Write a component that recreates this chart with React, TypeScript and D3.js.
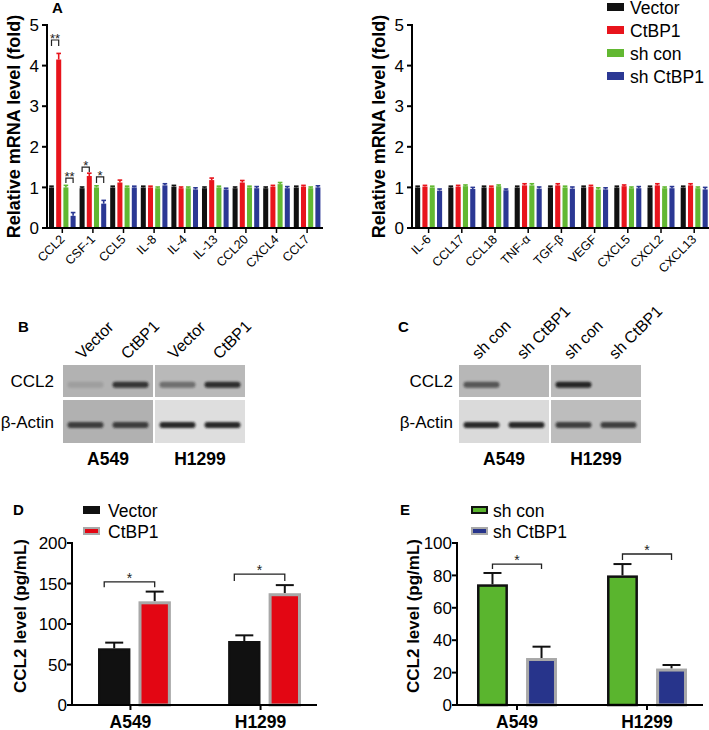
import React from "react";
import * as d3 from "d3";

// ---------- Panel A data ----------
const seriesA = ["Vector", "CtBP1", "sh con", "sh CtBP1"];
const colorsA = ["#111111", "#e8141c", "#62b832", "#2b3894"];
const genesLeft = ["CCL2", "CSF-1", "CCL5", "IL-8", "IL-4", "IL-13", "CCL20", "CXCL4", "CCL7"];
const valuesLeft = [
  [1.0, 4.15, 1.0, 0.3],
  [0.98, 1.28, 1.0, 0.6],
  [1.0, 1.12, 1.0, 1.0],
  [1.0, 1.0, 0.98, 1.05],
  [1.02, 0.98, 0.98, 0.95],
  [0.98, 1.18, 1.0, 0.95],
  [0.98, 1.12, 1.0, 0.98],
  [0.98, 1.02, 1.08, 0.98],
  [1.0, 1.02, 0.98, 1.0],
];
const errorsLeft = [
  [0.03, 0.15, 0.05, 0.08],
  [0.03, 0.07, 0.04, 0.08],
  [0.03, 0.06, 0.03, 0.03],
  [0.03, 0.03, 0.03, 0.04],
  [0.03, 0.03, 0.03, 0.04],
  [0.03, 0.05, 0.03, 0.03],
  [0.03, 0.05, 0.03, 0.04],
  [0.03, 0.03, 0.04, 0.04],
  [0.03, 0.03, 0.03, 0.04],
];
const genesRight = ["IL-6", "CCL17", "CCL18", "TNF-α", "TGF-β", "VEGF", "CXCL5", "CXCL2", "CXCL13"];
const valuesRight = [
  [1.0, 1.02, 1.0, 0.92],
  [1.0, 1.02, 1.03, 0.96],
  [1.0, 1.0, 1.03, 0.93],
  [1.0, 1.05, 1.05, 0.97],
  [1.0, 1.05, 1.0, 0.97],
  [1.0, 1.02, 0.95, 0.95],
  [1.0, 1.03, 0.98, 0.98],
  [1.0, 1.05, 0.98, 0.98],
  [1.0, 1.05, 0.98, 0.95],
];
const errorsRight = [
  [0.03, 0.03, 0.03, 0.04],
  [0.03, 0.03, 0.03, 0.04],
  [0.03, 0.03, 0.03, 0.03],
  [0.03, 0.04, 0.04, 0.04],
  [0.03, 0.04, 0.03, 0.04],
  [0.03, 0.03, 0.04, 0.04],
  [0.03, 0.03, 0.03, 0.04],
  [0.03, 0.04, 0.03, 0.04],
  [0.03, 0.04, 0.03, 0.05],
];
const ticksA = [0, 1, 2, 3, 4, 5];
const sigsLeft = [
  { gene: "CCL2", a: "Vector", b: "CtBP1", top: 4.63, leg: 4.48, label: "**" },
  { gene: "CCL2", a: "sh con", b: "sh CtBP1", top: 1.23, leg: 1.11, label: "**" },
  { gene: "CSF-1", a: "Vector", b: "CtBP1", top: 1.5, leg: 1.38, label: "*" },
  { gene: "CSF-1", a: "sh con", b: "sh CtBP1", top: 1.26, leg: 1.11, label: "*" },
];

// ---------- Blot data (band intensities, 0..1) ----------
const blotCells = ["A549", "H1299"];
const blotRows = ["CCL2", "β-Actin"];
const lanesB = ["Vector", "CtBP1", "Vector", "CtBP1"];
const lanesC = ["sh con", "sh CtBP1", "sh con", "sh CtBP1"];
const bandsB = [
  [0.12, 0.8, 0.45, 0.85],
  [0.75, 0.75, 0.9, 0.9],
];
const bandsC = [
  [0.6, 0.0, 0.9, 0.0],
  [0.9, 0.9, 0.75, 0.75],
];
const bgB = [
  ["#b2b2b2", "#b9b9b9"],
  ["#b1b1b1", "#dedede"],
];
const bgC = [
  ["#b7b7b7", "#b9b9b9"],
  ["#dadada", "#bdbdbd"],
];

// ---------- Panels D / E data ----------
const cellsDE = ["A549", "H1299"];
const seriesD = ["Vector", "CtBP1"];
const valuesD = [
  [70, 79],
  [128, 138],
];
const errTopD = [
  [77, 86],
  [140, 148],
];
const ticksD = [0, 50, 100, 150, 200];
const sigD = [
  { cell: "A549", top: 152, leg: 145.5 },
  { cell: "H1299", top: 161.5, leg: 153 },
];
const seriesE = ["sh con", "sh CtBP1"];
const valuesE = [
  [74.5, 80],
  [29, 22.5],
];
const errTopE = [
  [81.5, 87],
  [36, 24.7],
];
const ticksE = [0, 20, 40, 60, 80, 100];
const sigE = [
  { cell: "A549", top: 87, leg: 84 },
  { cell: "H1299", top: 93.2, leg: 89.5 },
];

const FONT = "'Liberation Sans', Arial, Helvetica, sans-serif";

const yA = d3.scaleLinear().domain([0, 5]).range([228, 25]);

function PanelA({ genes, values, errors, x0, step, pOuter, axisEnd, titleX, sigs }: any) {
  const x = d3.scaleBand().domain(genes).range([x0, x0 + step * genes.length]);
  const sub = d3.scaleBand().domain(seriesA).range([0, step]).paddingInner(0.3).paddingOuter(pOuter);
  const bw = sub.bandwidth();
  const cx = (g: string, s: string) => (x(g) as number) + (sub(s) as number) + bw / 2;
  return (
    <g>
      {genes.map((g: string, gi: number) =>
        seriesA.map((s, si) => {
          const v = values[gi][si];
          const e = errors[gi][si];
          const c = cx(g, s);
          return (
            <g key={g + s}>
              <rect x={c - bw / 2} y={yA(v)} width={bw} height={yA(0) - yA(v)} fill={colorsA[si]} />
              <line x1={c} x2={c} y1={yA(v)} y2={yA(v + e)} stroke={colorsA[si]} strokeWidth={1.6} />
              <line x1={c - 2.3} x2={c + 2.3} y1={yA(v + e)} y2={yA(v + e)} stroke={colorsA[si]} strokeWidth={1.6} />
            </g>
          );
        })
      )}
      <line x1={x0} x2={x0} y1={yA(5) - 1} y2={yA(0) + 1} stroke="#000" strokeWidth={2} />
      <line x1={x0 - 1} x2={axisEnd} y1={yA(0)} y2={yA(0)} stroke="#000" strokeWidth={2} />
      {ticksA.map((t) => (
        <g key={t}>
          <line x1={x0 - 5} x2={x0} y1={yA(t)} y2={yA(t)} stroke="#000" strokeWidth={2} />
          <text x={x0 - 8} y={yA(t)} dy="0.36em" textAnchor="end" fontSize={17}>
            {t}
          </text>
        </g>
      ))}
      {genes.map((g: string) => {
        const gx = (x(g) as number) + step / 2;
        return (
          <g key={g}>
            <line x1={gx} x2={gx} y1={yA(0)} y2={yA(0) + 5} stroke="#000" strokeWidth={1.5} />
            <text transform={`translate(${gx + 3},${yA(0) + 12}) rotate(-45)`} textAnchor="end" fontSize={12.5}>
              {g}
            </text>
          </g>
        );
      })}
      <text
        transform={`translate(${titleX},${(yA(0) + yA(5)) / 2}) rotate(-90)`}
        textAnchor="middle"
        dy="0.35em"
        fontSize={18}
        fontWeight="bold"
      >
        Relative mRNA level (fold)
      </text>
      {sigs.map((s: any, i: number) => {
        const xa = cx(s.gene, s.a);
        const xb = cx(s.gene, s.b);
        return (
          <g key={i}>
            <path
              d={`M${xa},${yA(s.leg)}V${yA(s.top)}H${xb}V${yA(s.leg)}`}
              fill="none"
              stroke="#222"
              strokeWidth={1.2}
            />
            <text x={(xa + xb) / 2} y={yA(s.top) + 3} textAnchor="middle" fontSize={13} fill="#222">
              {s.label}
            </text>
          </g>
        );
      })}
    </g>
  );
}

function Blot({ x0s, width, rowYs, rowHs, bands, bgs, lanes, labelEnd, laneLabelY, cellY }: any) {
  return (
    <g>
      {blotCells.map((cell, ci) => {
        const lx = d3.scaleBand().domain(["0", "1"]).range([x0s[ci], x0s[ci] + width]).paddingInner(0.2).paddingOuter(0.1);
        return (
          <g key={cell}>
            {blotRows.map((row, ri) => (
              <g key={row}>
                <rect x={x0s[ci]} y={rowYs[ri]} width={width} height={rowHs[ri]} fill={bgs[ri][ci]} />
                {["0", "1"].map((l, li) => {
                  const inten = bands[ri][ci * 2 + li];
                  if (inten <= 0) return null;
                  const bx = lx(l) as number;
                  const cyb = rowYs[ri] + rowHs[ri] * (ri === 0 ? 0.62 : 0.58);
                  return (
                    <rect
                      key={l}
                      x={bx}
                      y={cyb - 3}
                      width={lx.bandwidth()}
                      height={6}
                      rx={3}
                      fill="#141414"
                      opacity={inten}
                      filter="url(#blur)"
                    />
                  );
                })}
              </g>
            ))}
            <text x={x0s[ci] + width / 2} y={cellY} textAnchor="middle" fontSize={17.5} fontWeight="bold">
              {cell}
            </text>
            {["0", "1"].map((l, li) => {
              const c = (lx(l) as number) + lx.bandwidth() / 2;
              return (
                <text key={l} transform={`translate(${c - 3},${laneLabelY}) rotate(-45)`} fontSize={16}>
                  {lanes[ci * 2 + li]}
                </text>
              );
            })}
          </g>
        );
      })}
      {blotRows.map((row, ri) => (
        <text key={row} x={labelEnd} y={rowYs[ri] + rowHs[ri] / 2} dy="0.36em" textAnchor="end" fontSize={17}>
          {row}
        </text>
      ))}
    </g>
  );
}

function Elisa({ y, ticks, x0, axisEnd, range, pInner, pOuter, subPInner, series, values, errTop, fills, strokes, sws, sigs, titleX, tickShift, sigShift }: any) {
  const x = d3.scaleBand().domain(cellsDE).range(range).paddingInner(pInner).paddingOuter(pOuter);
  const sub = d3.scaleBand().domain(series).range([0, x.bandwidth()]).paddingInner(subPInner);
  const bw = sub.bandwidth();
  const center = (c: string, s: string) => (x(c) as number) + (sub(s) as number) + bw / 2;
  return (
    <g>
      {cellsDE.map((c, ci) =>
        series.map((s: string, si: number) => {
          const v = values[si][ci];
          const et = errTop[si][ci];
          const cc = center(c, s);
          const sw = sws[si];
          return (
            <g key={c + s}>
              <line x1={cc} x2={cc} y1={y(v)} y2={y(et)} stroke="#111" strokeWidth={2} />
              <line x1={cc - 9} x2={cc + 9} y1={y(et)} y2={y(et)} stroke="#111" strokeWidth={2} />
              <rect
                x={cc - bw / 2 + sw / 2}
                y={y(v) + sw / 2}
                width={bw - sw}
                height={y(0) - y(v) - sw / 2}
                fill={fills[si]}
                stroke={strokes[si]}
                strokeWidth={sw}
              />
            </g>
          );
        })
      )}
      <line x1={x0} x2={x0} y1={y(ticks[ticks.length - 1]) - 1} y2={y(0) + 1} stroke="#000" strokeWidth={2} />
      <line x1={x0 - 1} x2={axisEnd} y1={y(0)} y2={y(0)} stroke="#000" strokeWidth={2} />
      {ticks.map((t: number) => (
        <g key={t}>
          <line x1={x0 - 5} x2={x0} y1={y(t)} y2={y(t)} stroke="#000" strokeWidth={2} />
          <text x={x0 - 5} y={y(t)} dy="0.36em" textAnchor="end" fontSize={17}>
            {t}
          </text>
        </g>
      ))}
      {cellsDE.map((c) => {
        const tx = (x(c) as number) + x.bandwidth() / 2 + tickShift;
        return (
          <g key={c}>
            <line x1={tx} x2={tx} y1={y(0)} y2={y(0) + 5} stroke="#000" strokeWidth={2} />
            <text x={tx} y={728} textAnchor="middle" fontSize={17.5} fontWeight="bold">
              {c}
            </text>
          </g>
        );
      })}
      {sigs.map((s: any) => {
        const xa = center(s.cell, series[0]) + sigShift;
        const xb = center(s.cell, series[1]);
        return (
          <g key={s.cell}>
            <path d={`M${xa},${y(s.leg)}V${y(s.top)}H${xb}V${y(s.leg)}`} fill="none" stroke="#222" strokeWidth={1.3} />
            <text x={(xa + xb) / 2} y={y(s.top) + 1} textAnchor="middle" fontSize={14} fill="#222">
              *
            </text>
          </g>
        );
      })}
      <text
        transform={`translate(${titleX},${(y(0) + y(ticks[ticks.length - 1])) / 2 - 8}) rotate(-90)`}
        textAnchor="middle"
        dy="0.35em"
        fontSize={17}
        fontWeight="bold"
      >
        CCL2 level (pg/mL)
      </text>
    </g>
  );
}

export default function App() {
  const yD = d3.scaleLinear().domain([0, 200]).range([705, 543]);
  const yE = d3.scaleLinear().domain([0, 100]).range([705, 543]);
  return (
    <svg
      width={709}
      height={730}
      style={{ position: "absolute", left: 0, top: 0, background: "#fff" }}
      fontFamily={FONT}
    >
      <defs>
        <filter id="blur" x="-20%" y="-100%" width="140%" height="300%">
          <feGaussianBlur stdDeviation="1.3" />
        </filter>
      </defs>
      <rect width={709} height={730} fill="#fff" />

      {/* Panel A */}
      <text x={52} y={13} fontSize={15} fontWeight="bold">A</text>
      <PanelA
        genes={genesLeft}
        values={valuesLeft}
        errors={errorsLeft}
        x0={47}
        step={30.6}
        pOuter={0.275}
        axisEnd={323}
        titleX={14}
        sigs={sigsLeft}
      />
      <PanelA
        genes={genesRight}
        values={valuesRight}
        errors={errorsRight}
        x0={412}
        step={33.2}
        pOuter={0.42}
        axisEnd={712}
        titleX={379}
        sigs={[]}
      />
      {seriesA.map((s, i) => (
        <g key={s}>
          <rect x={607} y={3 + 23 * i} width={17} height={8} fill={colorsA[i]} />
          <text x={630} y={13.5 + 23 * i} fontSize={17.5}>
            {s}
          </text>
        </g>
      ))}

      {/* Panel B */}
      <text x={18} y={332} fontSize={15} fontWeight="bold">B</text>
      <Blot
        x0s={[63, 155]}
        width={90}
        rowYs={[365, 400]}
        rowHs={[32, 43]}
        bands={bandsB}
        bgs={bgB}
        lanes={lanesB}
        labelEnd={54}
        laneLabelY={360}
        cellY={465}
      />

      {/* Panel C */}
      <text x={398} y={332} fontSize={15} fontWeight="bold">C</text>
      <Blot
        x0s={[459, 551]}
        width={90}
        rowYs={[365, 400]}
        rowHs={[32, 43]}
        bands={bandsC}
        bgs={bgC}
        lanes={lanesC}
        labelEnd={453}
        laneLabelY={360}
        cellY={465}
      />

      {/* Panel D */}
      <text x={13} y={515} fontSize={15} fontWeight="bold">D</text>
      <rect x={83} y={506} width={17} height={8} fill="#111" />
      <text x={108} y={517} fontSize={17.5}>Vector</text>
      <rect x={84} y={528} width={15} height={6} fill="#e30613" stroke="#a8a8a8" strokeWidth={2} />
      <text x={108} y={538} fontSize={17.5}>CtBP1</text>
      <Elisa
        y={yD}
        ticks={ticksD}
        x0={72}
        axisEnd={317}
        range={[72, 327]}
        pInner={0.44}
        pOuter={0.2}
        subPInner={0.2}
        series={seriesD}
        values={valuesD}
        errTop={errTopD}
        fills={["#111111", "#e30613"]}
        strokes={["#111111", "#a8a8a8"]}
        sws={[2, 3]}
        sigs={sigD}
        titleX={20}
        tickShift={-4}
        sigShift={-10}
      />

      {/* Panel E */}
      <text x={400} y={515} fontSize={15} fontWeight="bold">E</text>
      <rect x={472} y={507} width={15} height={6} fill="#5ab52e" stroke="#111" strokeWidth={2} />
      <text x={493} y={517} fontSize={17.5}>sh con</text>
      <rect x={472} y={528} width={15} height={6} fill="#27348b" stroke="#a8a8a8" strokeWidth={2} />
      <text x={493} y={538} fontSize={17.5}>sh CtBP1</text>
      <Elisa
        y={yE}
        ticks={ticksE}
        x0={457}
        axisEnd={703}
        range={[457, 707]}
        pInner={0.385}
        pOuter={0.154}
        subPInner={0.37}
        series={seriesE}
        values={valuesE}
        errTop={errTopE}
        fills={["#5ab52e", "#27348b"]}
        strokes={["#111111", "#a8a8a8"]}
        sws={[2.5, 3]}
        sigs={sigE}
        titleX={413}
        tickShift={0}
        sigShift={0}
      />
    </svg>
  );
}
